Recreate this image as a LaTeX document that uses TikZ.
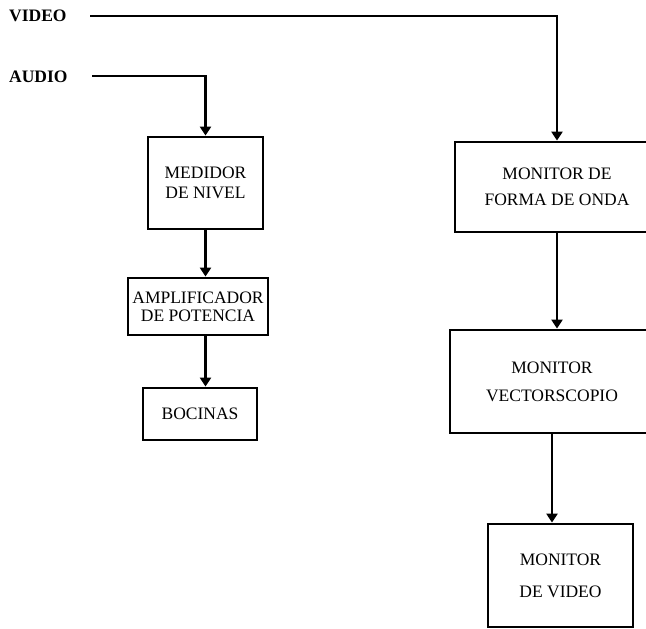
\documentclass[tikz,border=0pt]{standalone}
\usepackage{fontspec}
\setmainfont{Liberation Serif}
\usetikzlibrary{arrows.meta}
\begin{document}
\begin{tikzpicture}[x=1pt,y=-1pt,
  blk/.style={draw, line width=2.8pt, align=center, inner sep=0pt,
    font=\fontsize{17.5}{20}\selectfont},
  sig/.style={font=\bfseries\fontsize{17.5}{20}\selectfont, anchor=west, inner sep=0pt},
  wire/.style={line width=2.8pt},
  arr/.style={wire, -{Triangle[length=9pt,width=11pt]}}]
\useasboundingbox (0,0) rectangle (646,629);
\clip (0,0) rectangle (646,629);
\fill[white] (0,0) rectangle (646,629);

% input labels
\node[sig] (video) at (9,16) {VIDEO};
\node[sig] (audio) at (9,77) {AUDIO};
\coordinate (vin) at (90,16);
\coordinate (ain) at (92,76);

% audio chain
\node[blk, minimum width=115, minimum height=92] (medidor) at (205.5,183)
  {MEDIDOR\\DE NIVEL};
\node[blk, minimum width=140, minimum height=57] (ampl) at (198,306.5)
  {AMPLIFICADOR\\[-2pt]DE POTENCIA};
\node[blk, minimum width=114, minimum height=52] (bocinas) at (200,414)
  {BOCINAS};

% video chain
\node[blk, minimum width=204, minimum height=90] (forma) at (557,187)
  {MONITOR DE\\[6pt]FORMA DE ONDA};
\node[blk, minimum width=204, minimum height=103] (vect) at (552,381.5)
  {MONITOR\\[8pt]VECTORSCOPIO};
\node[blk, minimum width=145, minimum height=103] (vmon) at (560.5,575.5)
  {MONITOR\\[12pt]DE VIDEO};

% connectors
\draw[arr] (vin) -| (forma.north);
\draw[arr] (ain) -| (medidor.north);
\draw[arr] (medidor.south) -- (medidor.south |- ampl.north);
\draw[arr] (medidor.south |- ampl.south) -- (medidor.south |- bocinas.north);
\draw[arr] (forma.south) -- (forma.south |- vect.north);
\draw[arr] (vect.south) -- (vect.south |- vmon.north);
\end{tikzpicture}
\end{document}
